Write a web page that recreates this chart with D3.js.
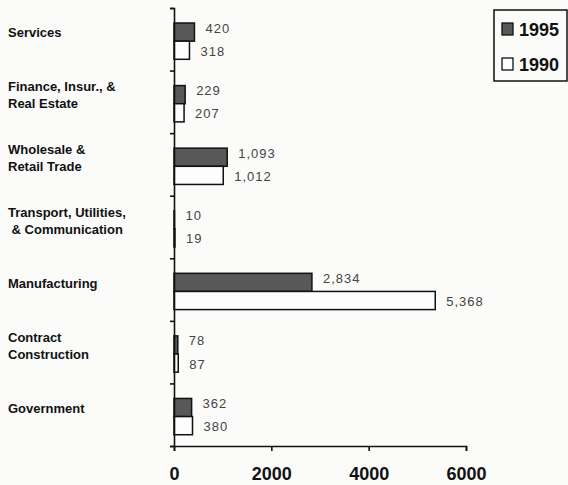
<!DOCTYPE html>
<html>
<head>
<meta charset="utf-8">
<script src="https://cdn.jsdelivr.net/npm/d3@7"></script>
<style>
  html, body { margin: 0; padding: 0; background: #fbfbfa; }
  svg { display: block; }
  .cat { font-family: "Liberation Sans", Arial, sans-serif; font-weight: bold; font-size: 13px; fill: #111; }
  .val { font-family: "Liberation Sans", Arial, sans-serif; font-size: 13px; fill: #444; letter-spacing: 1px; }
  .tick text { font-family: "Liberation Sans", Arial, sans-serif; font-weight: bold; font-size: 18px; fill: #111; }
  .leg { font-family: "Liberation Sans", Arial, sans-serif; font-weight: bold; font-size: 18px; fill: #111; }
</style>
</head>
<body>
<svg id="chart" width="568" height="485"></svg>
<script>
// chart data
const categories = ["Services", "Finance", "Wholesale", "Transport", "Manufacturing", "Contract", "Government"];
const categoryLines = [
    ["Services"],
    ["Finance, Insur., &", "Real Estate"],
    ["Wholesale &", "Retail Trade"],
    ["Transport, Utilities,", " & Communication"],
    ["Manufacturing"],
    ["Contract", "Construction"],
    ["Government"]
];
const values1995 = [420, 229, 1093, 10, 2834, 78, 362];
const values1990 = [318, 207, 1012, 19, 5368, 87, 380];
const seriesNames = ["1995", "1990"];
const xTicks = [0, 2000, 4000, 6000];

const svg = d3.select('#chart');

const x = d3.scaleLinear().domain([0, 6000]).range([174, 466]);
const y = d3.scaleBand().domain(categories).range([8, 446]);
const bw = y.bandwidth();
const barH = bw * 0.29;
const fmt = d3.format(",");

const rows = categories.map((c, i) => ({
    cat: c,
    lines: categoryLines[i],
    v95: values1995[i],
    v90: values1990[i]
}));

// bars
const g = svg.append('g');
const row = g.selectAll('g.row')
    .data(rows)
    .enter()
    .append('g')
    .attr('class', 'row')
    .attr('transform', d => `translate(0,${y(d.cat) + bw * 0.24})`);

row.append('rect')
    .attr('x', x(0))
    .attr('y', 0)
    .attr('width', d => x(d.v95) - x(0))
    .attr('height', barH)
    .attr('fill', '#585858')
    .attr('stroke', '#111')
    .attr('stroke-width', 1.5);

row.append('rect')
    .attr('x', x(0))
    .attr('y', barH)
    .attr('width', d => x(d.v90) - x(0))
    .attr('height', barH)
    .attr('fill', '#fdfdfd')
    .attr('stroke', '#111')
    .attr('stroke-width', 1.5);

// value labels
row.append('text')
    .attr('class', 'val')
    .attr('x', d => x(d.v95) + 11)
    .attr('y', barH / 2 - 4)
    .attr('dy', '0.35em')
    .text(d => fmt(d.v95));

row.append('text')
    .attr('class', 'val')
    .attr('x', d => x(d.v90) + 11)
    .attr('y', barH * 1.5 + 1)
    .attr('dy', '0.35em')
    .text(d => fmt(d.v90));

// category labels
const cat = svg.append('g').selectAll('text')
    .data(rows)
    .enter()
    .append('text')
    .attr('class', 'cat')
    .attr('x', 8)
    .attr('y', d => y(d.cat) + bw / 2 - 2 - (d.lines.length - 1) * 8.5)
    .attr('dy', '0.35em')
    .attr('xml:space', 'preserve');

cat.selectAll('tspan')
    .data(d => d.lines)
    .enter()
    .append('tspan')
    .attr('x', 8)
    .attr('dy', (d, i) => i === 0 ? 0 : 17)
    .text(d => d);

// x axis
const xAxis = svg.append('g')
    .attr('transform', 'translate(0,446)')
    .call(d3.axisBottom(x).tickValues(xTicks).tickSize(5).tickPadding(16).tickFormat(d => d));
xAxis.selectAll('path, line').attr('stroke', '#111').attr('stroke-width', 1.6);

// y axis: ticks at the band boundaries
const yEdge = d3.scaleLinear().domain([0, categories.length]).range([8, 446]);
const yAxis = svg.append('g')
    .attr('transform', `translate(${x(0)},0)`)
    .call(d3.axisLeft(yEdge).tickValues(d3.range(categories.length + 1)).tickSize(4).tickFormat(''));
yAxis.selectAll('path, line').attr('stroke', '#111').attr('stroke-width', 1.6);

// legend
const legend = svg.append('g');
legend.append('rect')
    .attr('x', 494).attr('y', 10)
    .attr('width', 73).attr('height', 71)
    .attr('fill', 'none')
    .attr('stroke', '#111')
    .attr('stroke-width', 1.5);

const legItem = legend.selectAll('g.item')
    .data(seriesNames)
    .enter()
    .append('g')
    .attr('class', 'item')
    .attr('transform', (d, i) => `translate(502,${23 + i * 35})`);

legItem.append('rect')
    .attr('width', 11).attr('height', 12)
    .attr('fill', (d, i) => i === 0 ? '#585858' : '#fdfdfd')
    .attr('stroke', '#111')
    .attr('stroke-width', 1.3);

legItem.append('text')
    .attr('class', 'leg')
    .attr('x', 17)
    .attr('y', 13)
    .text(d => d);
</script>
</body>
</html>
